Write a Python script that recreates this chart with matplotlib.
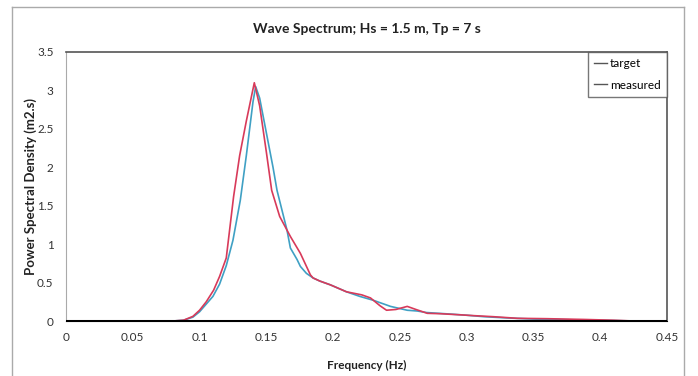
import matplotlib
matplotlib.use("Agg")
import matplotlib.pyplot as plt
from matplotlib.lines import Line2D

plt.rcParams['font.family'] = ['Lato', 'DejaVu Sans']

# ---- data ----
freq_target = [0.0, 0.08, 0.088, 0.095, 0.1, 0.105, 0.11, 0.115, 0.12, 0.125, 0.1305,
               0.135, 0.14, 0.142, 0.145, 0.15, 0.155, 0.158, 0.1655, 0.168, 0.173,
               0.1755, 0.18, 0.185, 0.19, 0.198, 0.21, 0.22, 0.23, 0.243, 0.2555,
               0.263, 0.27, 0.288, 0.3, 0.313, 0.33, 0.35, 0.38, 0.4, 0.425]
psd_target = [0.0, 0.0, 0.01, 0.05, 0.12, 0.22, 0.32, 0.48, 0.72, 1.05, 1.57,
              2.15, 2.85, 3.05, 2.9, 2.45, 2.0, 1.70, 1.18, 0.95, 0.80,
              0.71, 0.62, 0.56, 0.52, 0.47, 0.38, 0.32, 0.27, 0.19, 0.14,
              0.13, 0.11, 0.09, 0.075, 0.056, 0.04, 0.025, 0.015, 0.01, 0.0]

freq_measured = [0.0, 0.08, 0.088, 0.095, 0.1, 0.105, 0.1105, 0.115, 0.12, 0.1255,
                 0.13, 0.135, 0.141, 0.145, 0.15, 0.154, 0.16, 0.168, 0.1755, 0.183,
                 0.185, 0.19, 0.198, 0.21, 0.2215, 0.228, 0.235, 0.24, 0.247, 0.2555,
                 0.262, 0.2705, 0.28, 0.2955, 0.305, 0.32, 0.338, 0.36, 0.388, 0.41, 0.425]
psd_measured = [0.0, 0.0, 0.01, 0.06, 0.14, 0.25, 0.40, 0.58, 0.82, 1.62,
                2.15, 2.6, 3.1, 2.8, 2.2, 1.7, 1.36, 1.10, 0.88, 0.60,
                0.56, 0.52, 0.47, 0.38, 0.34, 0.30, 0.20, 0.14, 0.15, 0.19,
                0.15, 0.10, 0.095, 0.08, 0.07, 0.056, 0.035, 0.03, 0.02, 0.01, 0.0]

xticks = [0, 0.05, 0.1, 0.15, 0.2, 0.25, 0.3, 0.35, 0.4, 0.45]
xticklabels = ['0', '0.05', '0.1', '0.15', '0.2', '0.25', '0.3', '0.35', '0.4', '0.45']
yticks = [0, 0.5, 1, 1.5, 2, 2.5, 3, 3.5]
yticklabels = ['0', '0.5', '1', '1.5', '2', '2.5', '3', '3.5']

fig = plt.figure(figsize=(6.98, 3.76), dpi=100)
ax = fig.add_axes([66/698, 1-321/376, (667-66)/698, (321-52)/376])

ax.plot(freq_target, psd_target, color='#3fa0c4', lw=1.2, label='target')
ax.plot(freq_measured, psd_measured, color='#d83a5a', lw=1.2, label='measured')
ax.axhline(0, color='black', lw=2.2, zorder=3)

ax.set_xlim(0, 0.45)
ax.set_ylim(0, 3.5)
ax.set_xticks(xticks)
ax.set_xticklabels(xticklabels)
ax.set_yticks(yticks)
ax.set_yticklabels(yticklabels)
ax.tick_params(axis='both', length=0, labelsize=8.5, colors='#333333')
ax.tick_params(axis='x', pad=8)
ax.tick_params(axis='y', pad=9)

for s in ['top', 'right']:
    ax.spines[s].set_color('#555555')
    ax.spines[s].set_linewidth(1.2)
ax.spines['left'].set_color('#aaaaaa')
ax.spines['left'].set_linewidth(0.8)
ax.spines['bottom'].set_color('black')

ax.set_title('Wave Spectrum; Hs = 1.5 m, Tp = 7 s', fontsize=10, fontweight='bold',
             pad=14, color='#222222')
ax.set_xlabel('Frequency (Hz)', fontsize=8.5, fontweight='bold', labelpad=12, color='#222222')
ax.set_ylabel('Power Spectral Density (m2.s)', fontsize=9.5, fontweight='bold',
              color='#222222')
ax.yaxis.set_label_coords(-0.048, 0.5)

leg = ax.legend(loc='upper right', bbox_to_anchor=(1.0, 1.0), fontsize=8.5,
                frameon=True, fancybox=False, borderaxespad=0, handlelength=1.1,
                handletextpad=0.2, borderpad=0.55, labelspacing=0.85)
leg.get_frame().set_edgecolor('#555555')
leg.get_frame().set_linewidth(1.0)
for h in leg.get_lines():
    h.set_color('#555555')
    h.set_linewidth(1.0)

# outer chart-area border
for xs, ys in [([12/698, 12/698], [0, 1-7/376]),
               ([12/698, 684/698], [1-7/376, 1-7/376]),
               ([684/698, 684/698], [0, 1-7/376])]:
    fig.add_artist(Line2D(xs, ys, transform=fig.transFigure, color='#aaaaaa', lw=1.0))

fig.savefig('out.png', dpi=100)
